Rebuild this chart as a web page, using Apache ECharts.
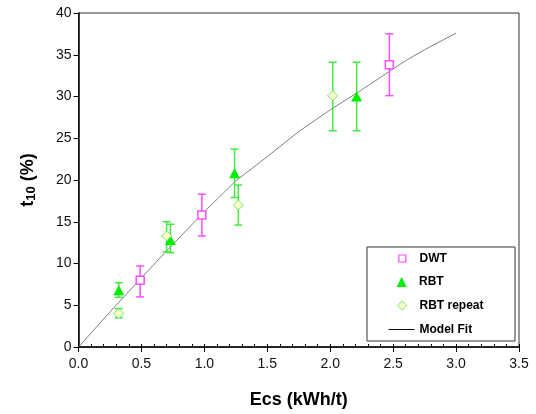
<!DOCTYPE html>
<html><head><meta charset="utf-8">
<script src="https://cdn.jsdelivr.net/npm/echarts@6/dist/echarts.min.js"></script>
<style>html,body{margin:0;padding:0;background:#fff}#c{width:536px;height:414px}</style>
</head><body><div id="c"></div>
<script>
// Data
const dwtX = [0.49, 0.98, 2.47];
const dwtY = [8.0, 15.8, 33.8];
const dwtLo = [6.0, 13.3, 30.1];
const dwtHi = [9.7, 18.3, 37.5];

const rbtX = [0.32, 0.73, 1.24, 2.21];
const rbtY = [6.8, 12.8, 20.8, 30.0];
const rbtLo = [5.95, 11.3, 17.9, 25.9];
const rbtHi = [7.7, 14.7, 23.7, 34.1];

const repX = [0.32, 0.70, 1.27, 2.02];
const repY = [4.0, 13.3, 17.0, 30.1];
const repLo = [3.5, 11.4, 14.6, 25.9];
const repHi = [4.6, 15.0, 19.4, 34.1];

const fitX = [0, 0.25, 0.5, 0.75, 1.0, 1.25, 1.5, 1.75, 2.0, 2.25, 2.5, 2.6, 2.75, 3.0];
const fitY = [0, 4.2, 8.3, 12.3, 16.2, 19.9, 22.8, 25.8, 28.4, 30.8, 33.3, 34.3, 35.6, 37.6];

const xTicks = ['0.0','0.5','1.0','1.5','2.0','2.5','3.0','3.5'];

const magenta = '#ff4dff';
const greenBar = '#44e844';

function errSeries(name, xs, lo, hi, color) {
  return {
    type: 'custom', name: name + ' err', silent: true, z: 3,
    data: xs.map((x, i) => [x, lo[i], hi[i]]),
    renderItem: function (params, api) {
      const x = api.value(0);
      const p1 = api.coord([x, api.value(1)]);
      const p2 = api.coord([x, api.value(2)]);
      const w = 4;
      const st = { stroke: color, lineWidth: 1.5 };
      return { type: 'group', children: [
        { type: 'line', shape: { x1: p1[0], y1: p1[1], x2: p2[0], y2: p2[1] }, style: st },
        { type: 'line', shape: { x1: p1[0]-w, y1: p1[1], x2: p1[0]+w, y2: p1[1] }, style: st },
        { type: 'line', shape: { x1: p2[0]-w, y1: p2[1], x2: p2[0]+w, y2: p2[1] }, style: st }
      ]};
    }
  };
}

const ln = 'path://M0,0L27,0L27,1L0,1Z';

// symbol legend: icon square box of size h centred at x=401.7, text starting at x=419
function legSym(name, icon, h, cy, itemStyle) {
  const left = 401.7 - h / 2;
  const pad = 419 - (left + h + 5);
  return {
    orient: 'vertical', left: left, top: cy - 7, itemWidth: h, itemHeight: h,
    padding: 0, selectedMode: false, align: 'left',
    textStyle: { fontSize: 12, fontWeight: 'bold', color: '#000', lineHeight: 14, padding: [0, 0, 0, pad] },
    data: [{ name: name, icon: icon, itemStyle: itemStyle }]
  };
}

const chart = echarts.init(document.getElementById('c'));
chart.setOption({
  animation: false,
  backgroundColor: '#fff',
  textStyle: { fontFamily: 'Liberation Sans, Arial, sans-serif' },
  grid: { left: 78.5, right: 17, top: 13, bottom: 67, show: true, borderColor: '#333', borderWidth: 1 },
  xAxis: [{
    type: 'value', min: 0, max: 3.5, interval: 0.5,
    axisLine: { lineStyle: { color: '#000', width: 1.5 } },
    axisTick: { show: true, length: 5, lineStyle: { color: '#000' } },
    axisLabel: { color: '#111', fontSize: 14, margin: 10, formatter: (v) => xTicks[Math.round(v / 0.5)] },
    splitLine: { show: false },
    name: 'Ecs (kWh/t)', nameLocation: 'middle', nameGap: 44,
    nameTextStyle: { fontSize: 18, fontWeight: 'bold', color: '#000' }
  }, {
    type: 'value', min: 0, max: 3.5, interval: 0.1, position: 'bottom',
    axisLine: { show: false },
    axisTick: { show: true, inside: true, length: 3, lineStyle: { color: '#000' } },
    axisLabel: { show: false }, splitLine: { show: false }
  }],
  yAxis: {
    type: 'value', min: 0, max: 40, interval: 5,
    axisLine: { show: true, lineStyle: { color: '#000', width: 1.5 } },
    axisTick: { show: true, length: 5, lineStyle: { color: '#000' } },
    axisLabel: { color: '#111', fontSize: 14, margin: 7 },
    splitLine: { show: false },
    name: '{t|t}{s|10}{t| (%)}', nameLocation: 'middle', nameGap: 41, nameRotate: 90,
    nameTextStyle: { rich: {
      t: { fontSize: 18, fontWeight: 'bold', color: '#000' },
      s: { fontSize: 13, fontWeight: 'bold', color: '#000', padding: [6, 0, 0, 0] }
    } }
  },
  legend: [
    legSym('DWT', 'rect', 7, 258.5, { color: '#fff', borderColor: magenta, borderWidth: 1.2 }),
    legSym('RBT', 'triangle', 10, 282, { color: '#00ee00', borderWidth: 0 }),
    legSym('RBT repeat', 'diamond', 9, 305.5, { color: '#ffffcc', borderColor: '#66ee66', borderWidth: 1 }),
    {
      orient: 'vertical', left: 388.5, top: 322.5, itemWidth: 26, itemHeight: 10,
      padding: 0, selectedMode: false, symbolKeepAspect: true,
      textStyle: { fontSize: 12, fontWeight: 'bold', color: '#000', lineHeight: 14 },
      data: [{ name: 'Model Fit', icon: ln, itemStyle: { color: '#000', borderWidth: 0 } }]
    }
  ],
  graphic: [{
    type: 'rect', shape: { x: 367, y: 247, width: 148, height: 94 },
    style: { fill: 'none', stroke: '#333', lineWidth: 1 }, z: 10
  }],
  series: [
    {
      name: 'Model Fit', type: 'line', symbol: 'none', z: 2,
      data: fitX.map((x, i) => [x, fitY[i]]),
      lineStyle: { color: '#808080', width: 1 },
      itemStyle: { color: '#000' }
    },
    errSeries('DWT', dwtX, dwtLo, dwtHi, magenta),
    errSeries('RBT', rbtX, rbtLo, rbtHi, greenBar),
    errSeries('RBT repeat', repX, repLo, repHi, greenBar),
    {
      name: 'DWT', type: 'scatter', symbol: 'rect', symbolSize: 8, z: 5,
      data: dwtX.map((x, i) => [x, dwtY[i]]),
      itemStyle: { color: '#fff', borderColor: magenta, borderWidth: 1.5, opacity: 1 }
    },
    {
      name: 'RBT', type: 'scatter', symbol: 'triangle', symbolSize: [11, 10], z: 5,
      data: rbtX.map((x, i) => [x, rbtY[i]]),
      itemStyle: { color: '#00ee00', opacity: 1 }
    },
    {
      name: 'RBT repeat', type: 'scatter', symbol: 'diamond', symbolSize: 10, z: 5,
      data: repX.map((x, i) => [x, repY[i]]),
      itemStyle: { color: '#ffffcc', borderColor: '#66ee66', borderWidth: 1, opacity: 1 }
    }
  ]
});
</script></body></html>
